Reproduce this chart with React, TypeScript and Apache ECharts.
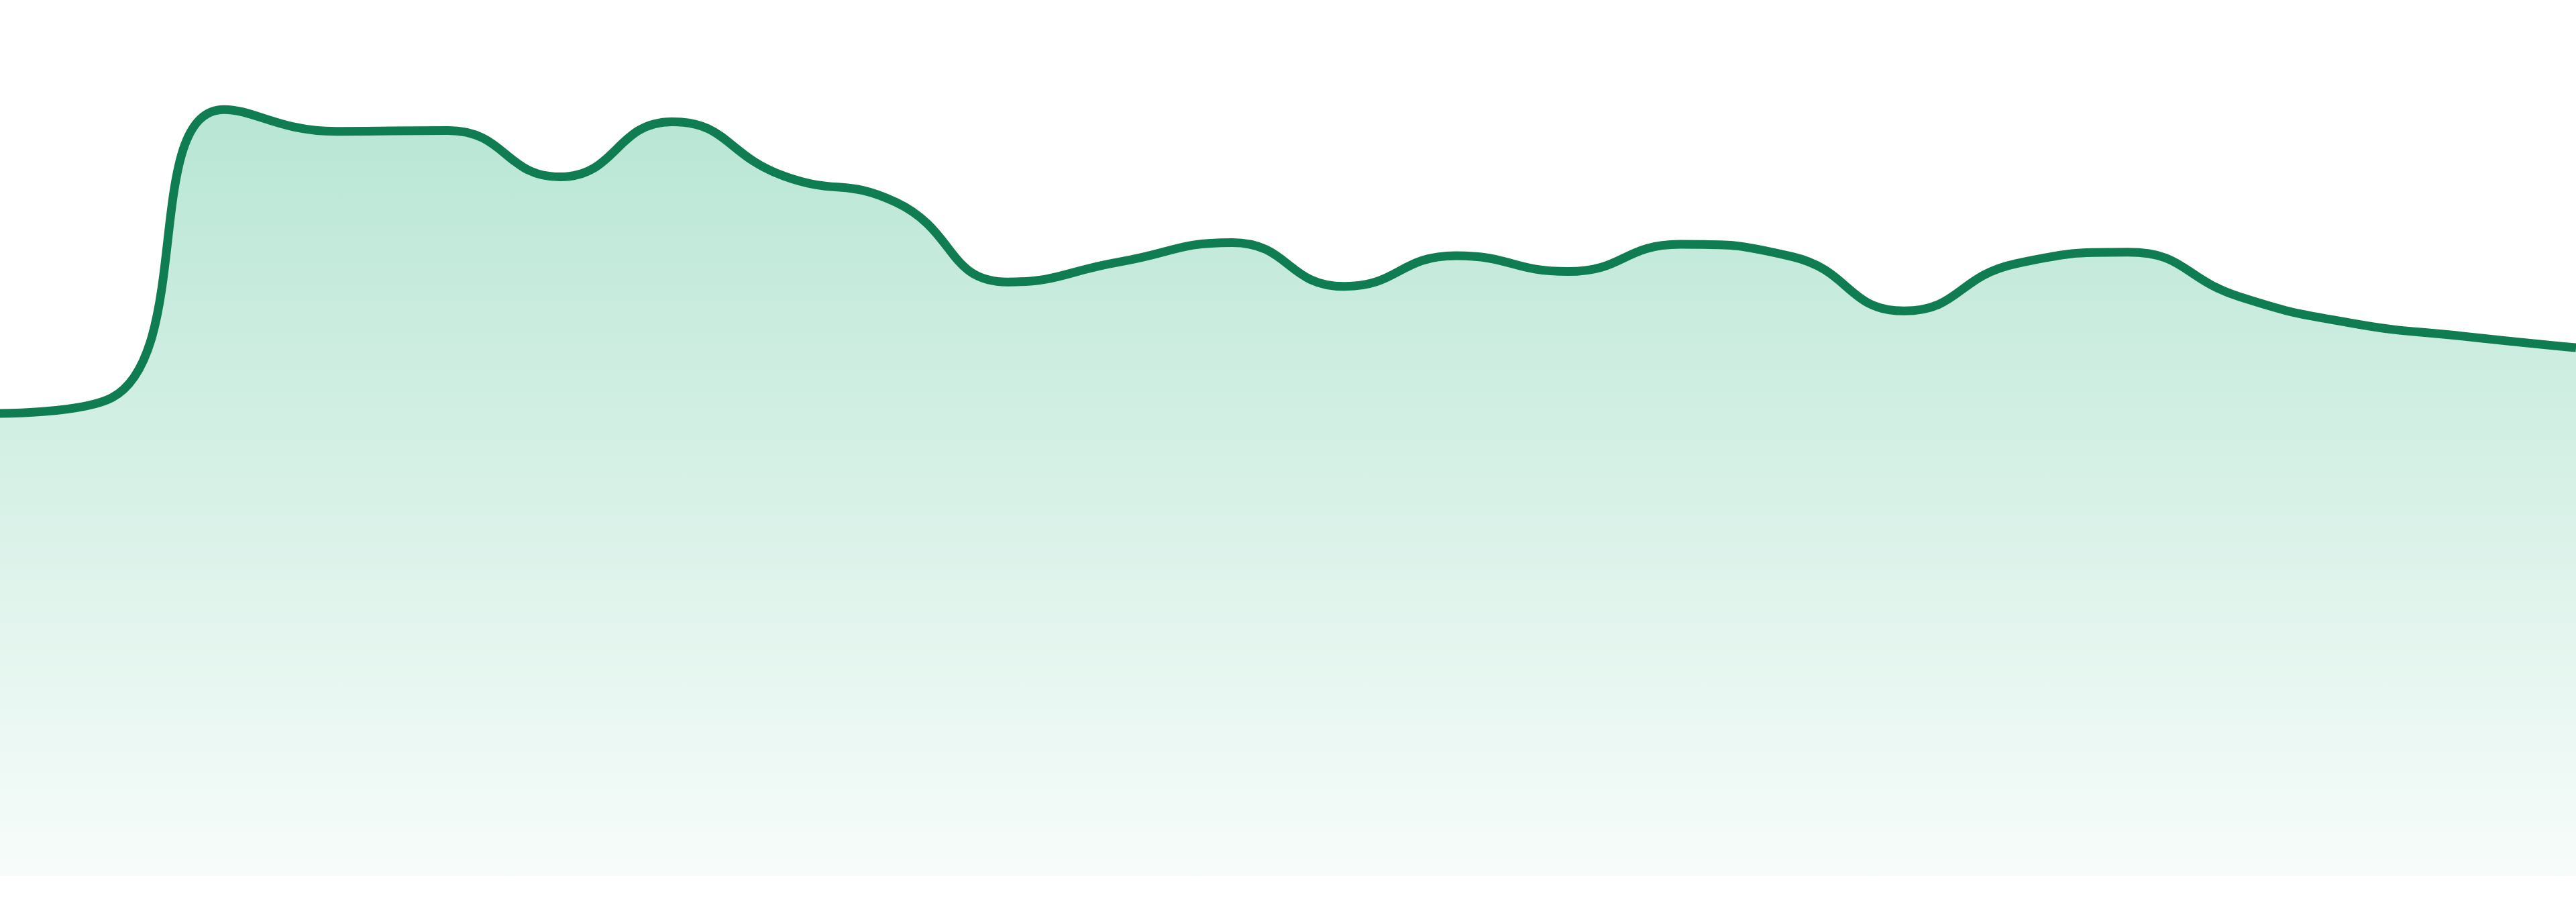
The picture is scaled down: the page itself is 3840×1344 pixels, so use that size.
import { useEffect, useRef } from 'react';
import * as echarts from 'echarts';

// 24 points, no visible axes
const categories = [
  'P01', 'P02', 'P03', 'P04', 'P05', 'P06', 'P07', 'P08',
  'P09', 'P10', 'P11', 'P12', 'P13', 'P14', 'P15', 'P16',
  'P17', 'P18', 'P19', 'P20', 'P21', 'P22', 'P23', 'P24',
];

const values = [
  52.8, 54.6, 87.5, 85.0, 85.1, 79.8, 86.1, 79.9,
  76.9, 67.8, 70.1, 72.3, 67.3, 70.8, 69.0, 72.1,
  70.7, 64.5, 69.9, 71.2, 66.1, 63.1, 61.6, 60.3,
];

const yMin = 0;
const yMax = 100;

export default function App() {
  const chartRef = useRef<HTMLDivElement>(null);

  useEffect(() => {
    if (!chartRef.current) return;
    const chart = echarts.init(chartRef.current, undefined, { renderer: 'svg' });

    chart.setOption({
      animation: false,
      grid: { left: 0, right: 0, top: 0, bottom: 39 },
      xAxis: {
        type: 'category',
        data: categories,
        boundaryGap: false,
        show: false,
      },
      yAxis: {
        type: 'value',
        min: yMin,
        max: yMax,
        show: false,
      },
      series: [
        {
          type: 'line',
          data: values,
          smooth: true,
          symbol: 'none',
          lineStyle: { color: '#107c52', width: 13 },
          areaStyle: {
            opacity: 1,
            color: new echarts.graphic.LinearGradient(0, 0, 0, 1, [
              { offset: 0, color: '#b8e6d4' },
              { offset: 1, color: '#f7fcfa' },
            ]),
          },
        },
      ],
    });

    return () => {
      chart.dispose();
    };
  }, []);

  return (
    <div
      ref={chartRef}
      style={{ position: 'absolute', left: 0, top: 0, width: '3840px', height: '1344px' }}
    />
  );
}
